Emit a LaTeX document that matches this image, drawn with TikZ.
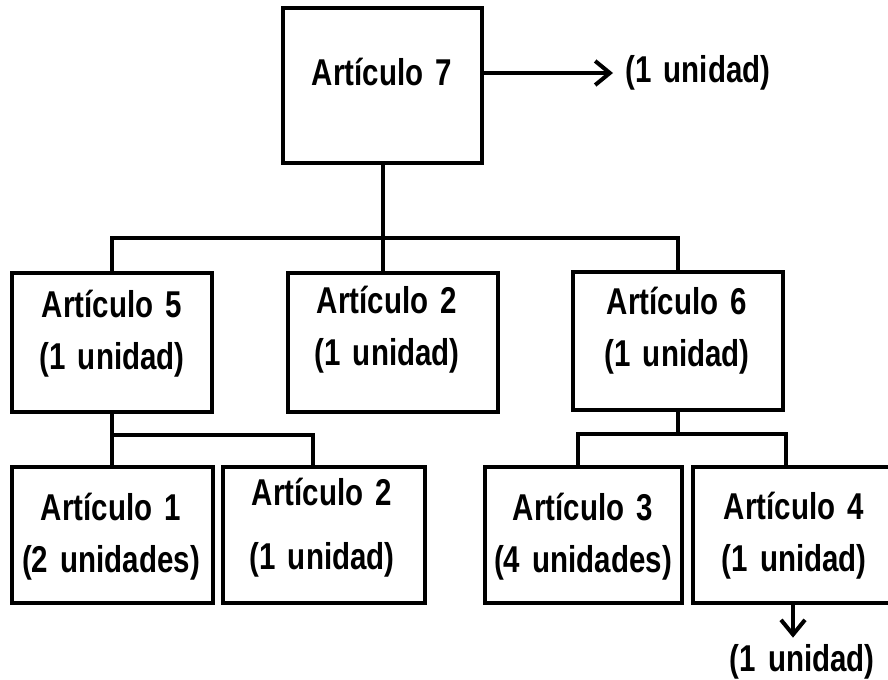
\documentclass[tikz,border=0pt]{standalone}
\usepackage{fontspec}
\newfontfamily\boxfont[FakeStretch=0.79, WordSpace=1.5]{Liberation Sans}
\usepackage{tikz}
\usetikzlibrary{positioning,calc,arrows.meta}

\tikzset{
    box/.style={draw, line width=3pt, inner sep=0pt},
    lbl/.style={font=\fontsize{28}{39}\boxfont\bfseries, align=center, inner sep=0pt},
    conn/.style={line width=3pt},
    arr/.style={line width=3pt, -{Straight Barb[length=11pt, width=18pt]}}
}

\begin{document}
\begin{tikzpicture}[x=0.75pt, y=-0.75pt]
    \clip (0,0) rectangle (888,679);

    % top item
    \node[box, minimum width=149pt, minimum height=116pt] (a7) at (382.5,85.5) {};
    \node[lbl] (t7) at (382,72) {Artículo 7};
    \node[lbl, anchor=west, inner xsep=9pt] (u7) at (613,73) {(1 unidad)};
    \draw[arr] (a7.east |- u7) -- (u7.west);

    % second level
    \node[box, minimum width=150pt, minimum height=104pt] (a5) at (112,342.5) {};
    \node[box, minimum width=157.5pt, minimum height=104pt] (b2) at (393,342.5) {};
    \node[box, minimum width=157.5pt, minimum height=103.5pt] (a6) at (678,341) {};
    \node[lbl] (t5) at (112,334) {Artículo 5\\(1 unidad)};
    \node[lbl] (tb2) at (387,330) {Artículo 2\\(1 unidad)};
    \node[lbl] (t6) at (677,331) {Artículo 6\\(1 unidad)};

    \coordinate (bar) at (a7.south |- 0,238);
    \draw[conn] (a5.north) |- (bar) -| (a6.north);
    \draw[conn] (a7.south) -- (a7.south |- b2.north);

    % third level
    \node[box, minimum width=150.75pt, minimum height=102pt] (a1) at (112.5,535) {};
    \node[box, minimum width=151.5pt, minimum height=102pt] (c2) at (324,535) {};
    \node[box, minimum width=147.75pt, minimum height=102pt] (a3) at (583.5,535) {};
    \node[box, minimum width=153pt, minimum height=102pt] (a4) at (795,535) {};
    \node[lbl] (t1) at (111,537) {Artículo 1\\(2 unidades)};
    \node[lbl, align=center] (tc2) at (322,528) {Artículo 2\\[9pt](1 unidad)};
    \node[lbl] (t3) at (583,537) {Artículo 3\\(4 unidades)};
    \node[lbl] (t4) at (794,536) {Artículo 4\\(1 unidad)};

    \coordinate (f5) at (a5.south |- 0,435);
    \draw[conn] (a5.south) -- (a5.south |- a1.north);
    \draw[conn] (f5) -| ([xshift=-8pt]c2.north);
    \coordinate (f6) at (a6.south |- 0,434);
    \draw[conn] (a6.south) -- (f6);
    \draw[conn] ([xshift=-4pt]a3.north) |- (f6) -| ([xshift=-7pt]a4.north);

    % output of item 4
    \node[lbl] (u4) at (802,662) {(1 unidad)};
    \draw[arr, shorten >=5pt] ([xshift=-1.5pt]a4.south) -- ([xshift=-1.5pt]a4.south |- u4.north);
\end{tikzpicture}
\end{document}
